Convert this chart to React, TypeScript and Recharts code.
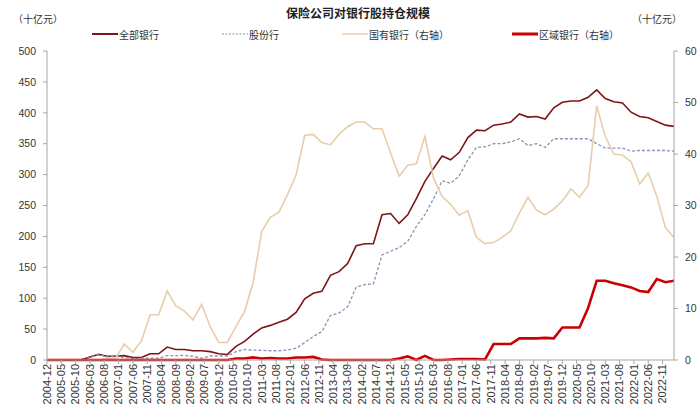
import React from 'react';
import { LineChart, Line, XAxis, YAxis } from 'recharts';

// x-axis labels, every 5 months starting 2004-12
const tickLabels = [
  '2004-12', '2005-05', '2005-10', '2006-03', '2006-08', '2007-01', '2007-06', '2007-11',
  '2008-04', '2008-09', '2009-02', '2009-07', '2009-12', '2010-05', '2010-10', '2011-03',
  '2011-08', '2012-01', '2012-06', '2012-11', '2013-04', '2013-09', '2014-02', '2014-07',
  '2014-12', '2015-05', '2015-10', '2016-03', '2016-08', '2017-01', '2017-06', '2017-11',
  '2018-04', '2018-09', '2019-02', '2019-07', '2019-12', '2020-05', '2020-10', '2021-03',
  '2021-08', '2022-01', '2022-06', '2022-11',
];

// quarterly values, 2004-12 .. 2023-03 (十亿元)
const totalBanks = [
  0, 0, 0, 0, 0.5, 5, 9, 6, 6, 7, 4, 4, 10, 10, 21, 17, 17, 15, 15, 13.5,
  10, 9, 22, 30, 42, 52, 56, 61, 66, 77, 99, 108, 111, 137, 143, 156, 185, 188, 188, 235,
  237, 221, 235, 261, 289, 310, 330, 324, 336, 360, 372, 371, 380, 382, 385, 398, 393, 394, 390, 408,
  417, 419, 419, 425, 437, 423, 418, 416, 401, 394, 392, 386, 380, 378,
];
const jointStock = [
  0, 0, 0, 0, 0.5, 4, 9, 5, 6, 4, 2, 3, 3, 3, 7, 7, 7.5, 6, 3, 6.5,
  6.5, 6.5, 13.5, 17, 16, 15.7, 15, 15, 16, 19, 28, 38, 46, 72, 76, 86, 118, 122, 123, 170,
  176, 182, 192, 216, 235, 261, 290, 286, 298, 324, 344, 345, 350, 350, 353, 358, 347, 350, 344, 358,
  358, 358, 358, 358, 350, 343, 343, 343, 338, 339, 339, 339, 339, 338,
];
const stateOwned = [
  0, 0, 0, 0, 0, 0, 0, 0.3, 0.4, 3.1, 1.5, 3.7, 8.8, 8.8, 13.4, 10.5, 9.5, 7.8, 10.8, 6.5,
  3.4, 3.4, 6.5, 9.4, 15.1, 25, 27.7, 28.7, 32.1, 35.9, 43.6, 43.8, 42.2, 41.8, 43.8, 45.3, 46.2, 46.2, 44.9, 44.9,
  40.2, 35.7, 37.8, 38.1, 43.4, 35.3, 31.8, 30.2, 28.1, 29, 23.8, 22.6, 22.8, 23.8, 25.1, 28.5, 31.6, 29.1, 28.2, 29.3,
  30.9, 33.2, 31.6, 33.9, 49.4, 43.4, 40, 39.8, 38.5, 34.2, 36.3, 31.8, 25.7, 23.8,
];
const regional = [
  0, 0, 0, 0, 0, 0, 0, 0, 0, 0, 0, 0, 0, 0, 0, 0, 0, 0, 0, 0,
  0, 0, 0.3, 0.3, 0.5, 0.3, 0.4, 0.3, 0.3, 0.5, 0.5, 0.6, 0.1, 0, 0, 0, 0, 0, 0, 0,
  0, 0.3, 0.7, 0, 0.8, 0, 0, 0.1, 0.2, 0.2, 0.2, 0.1, 3.1, 3.1, 3.1, 4.2, 4.2, 4.2, 4.3, 4.2,
  6.3, 6.3, 6.3, 10.1, 15.4, 15.4, 14.9, 14.5, 14.1, 13.4, 13.2, 15.7, 15.1, 15.4,
];

const leftTicks = [0, 50, 100, 150, 200, 250, 300, 350, 400, 450, 500];
const rightTicks = [0, 10, 20, 30, 40, 50, 60];

const COLORS = {
  total: '#7b1518',
  joint: '#8a92b6',
  state: '#e8cdaa',
  regional: '#cc0000',
};

const FONT = '"Liberation Sans", Arial, "Noto Sans CJK SC", sans-serif';
const CJK = '"Noto Sans CJK SC", "Liberation Sans", sans-serif';

// month offsets from 2004-12, one point per quarter
const data = totalBanks.map((v, i) => ({
  m: i * 3,
  total: v,
  joint: jointStock[i],
  state: stateOwned[i],
  regional: regional[i],
}));

const xTicks = tickLabels.map((_, i) => i * 5);

const XTick = (props: any) => {
  const { x, y, payload } = props;
  const label = tickLabels[Math.round(payload.value / 5)];
  return (
    <g transform={`translate(${x},${y})`}>
      <text
        transform="rotate(-90)"
        textAnchor="end"
        dy="0.35em"
        fontSize={11}
        fill="#333"
        fontFamily={FONT}
      >
        {label}
      </text>
    </g>
  );
};

const legendItems = [
  { name: '全部银行', color: COLORS.total, width: 2, dash: undefined },
  { name: '股份行', color: COLORS.joint, width: 1.2, dash: '2 1.5' },
  { name: '国有银行（右轴）', color: COLORS.state, width: 1.5, dash: undefined },
  { name: '区域银行（右轴）', color: COLORS.regional, width: 3, dash: undefined },
];

export default function App() {
  return (
    <div style={{ position: 'absolute', left: 0, top: 0, width: 700, height: 420, background: '#fff' }}>
      <div
        style={{
          position: 'absolute',
          top: 4,
          left: 358,
          transform: 'translateX(-50%)',
          fontFamily: CJK,
          fontSize: 12,
          fontWeight: 'bold',
          color: '#222',
          whiteSpace: 'nowrap',
        }}
      >
        保险公司对银行股持仓规模
      </div>
      <div style={{ position: 'absolute', top: 11, left: 13, fontFamily: CJK, fontSize: 10, color: '#333' }}>
        （十亿元）
      </div>
      <div style={{ position: 'absolute', top: 11, left: 632, fontFamily: CJK, fontSize: 10, color: '#333' }}>
        （十亿元）
      </div>
      <div
        style={{
          position: 'absolute',
          top: 26,
          left: 92,
          display: 'flex',
          gap: 63,
          fontFamily: CJK,
          fontSize: 10,
          color: '#333',
          whiteSpace: 'nowrap',
        }}
      >
        {legendItems.map((it) => (
          <div key={it.name} style={{ display: 'flex', alignItems: 'center', height: 16 }}>
            <svg width={26} height={6} style={{ marginRight: 1 }}>
              <line
                x1={0}
                y1={3}
                x2={26}
                y2={3}
                stroke={it.color}
                strokeWidth={it.width}
                strokeDasharray={it.dash}
              />
            </svg>
            <span>{it.name}</span>
          </div>
        ))}
      </div>
      <LineChart width={700} height={420} data={data} margin={{ top: 51, right: 0, bottom: 0, left: 0 }}>
        <XAxis
          dataKey="m"
          type="number"
          domain={[0, 219]}
          ticks={xTicks}
          interval={0}
          height={60}
          tick={<XTick />}
          tickSize={4}
          tickMargin={0}
          stroke="#a6a6a6"
          allowDataOverflow
        />
        <YAxis
          yAxisId="left"
          domain={[0, 500]}
          ticks={leftTicks}
          interval={0}
          width={47}
          tickSize={4}
          tickMargin={7}
          stroke="#a6a6a6"
          tick={{ fill: '#333', fontSize: 10.5, fontFamily: FONT }}
        />
        <YAxis
          yAxisId="right"
          orientation="right"
          domain={[0, 60]}
          ticks={rightTicks}
          interval={0}
          width={26}
          tickSize={4}
          tickMargin={7}
          stroke="#a6a6a6"
          tick={{ fill: '#333', fontSize: 10.5, fontFamily: FONT }}
        />
        <Line
          yAxisId="left"
          dataKey="total"
          stroke={COLORS.total}
          strokeWidth={1.6}
          dot={false}
          isAnimationActive={false}
        />
        <Line
          yAxisId="left"
          dataKey="joint"
          stroke={COLORS.joint}
          strokeWidth={1.3}
          strokeDasharray="3 2"
          dot={false}
          isAnimationActive={false}
        />
        <Line
          yAxisId="right"
          dataKey="state"
          stroke={COLORS.state}
          strokeWidth={1.6}
          dot={false}
          isAnimationActive={false}
        />
        <Line
          yAxisId="right"
          dataKey="regional"
          stroke={COLORS.regional}
          strokeWidth={2.6}
          dot={false}
          isAnimationActive={false}
        />
      </LineChart>
    </div>
  );
}
